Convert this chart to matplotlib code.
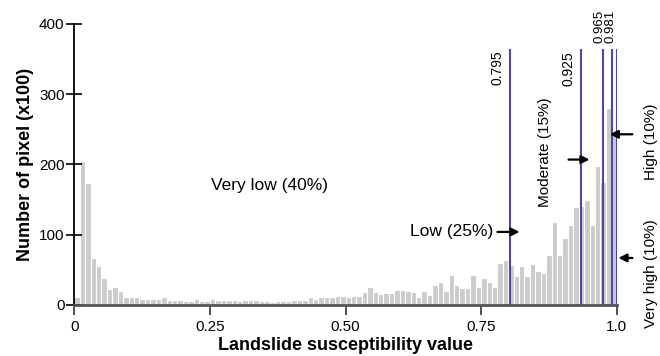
import matplotlib
matplotlib.use("Agg")
import matplotlib.pyplot as plt
import numpy as np

plt.rcParams['font.family'] = ['Liberation Sans', 'DejaVu Sans']

# histogram counts (x100 pixels), 100 bins of width 0.01 from 0 to 1
counts = [11, 205, 173, 67, 56, 38, 23, 25, 20, 11,
          11, 11, 9, 9, 9, 8, 11, 7, 7, 7,
          5, 6, 9, 6, 6, 9, 7, 7, 7, 7,
          5, 7, 7, 7, 6, 6, 4, 5, 6, 6,
          7, 7, 7, 12, 9, 12, 11, 11, 13, 13,
          11, 13, 13, 18, 26, 19, 15, 17, 17, 22,
          22, 20, 18, 12, 20, 14, 29, 33, 20, 43,
          29, 24, 24, 43, 26, 39, 33, 26, 60, 64,
          57, 41, 55, 41, 58, 49, 46, 71, 118, 71,
          95, 114, 140, 141, 149, 114, 198, 175, 280, 245]
bin_left = np.arange(100) / 100

# class break lines (drawn positions) and their labels
break_pos = [0.804, 0.934, 0.975, 0.992, 1.0]
break_labels = ['0.795', '0.925', '0.965', '0.981', '']

xticks = [0, 0.25, 0.5, 0.75, 1.0]
xtick_labels = ['0', '0.25', '0.50', '0.75', '1.0']
yticks = [0, 100, 200, 300, 400]

fig = plt.figure(figsize=(6.6, 3.56), dpi=100)
ax = fig.add_axes([0.1126, 0.1433, 0.8218, 0.7893])

ax.bar(bin_left, counts, width=0.01, align='edge', color='#cccccc',
       edgecolor='white', linewidth=0.8, zorder=1)

line_top = 363
for p in break_pos:
    ax.plot([p, p], [0, line_top], color='#4a4aa6', lw=1.5, zorder=3)

# labels of the breaks
ax.text(break_pos[0] - 0.010, line_top, break_labels[0], rotation=90,
        ha='right', va='top', fontsize=10)
ax.text(break_pos[1] - 0.010, line_top - 2, break_labels[1], rotation=90,
        ha='right', va='top', fontsize=10)
ax.text(0.968, 373, break_labels[2], rotation=90,
        ha='center', va='bottom', fontsize=9.5, clip_on=False)
ax.text(0.988, 373, break_labels[3], rotation=90,
        ha='center', va='bottom', fontsize=9.5, clip_on=False)

# class names
ax.text(0.359, 170, 'Very low (40%)', ha='center', va='center', fontsize=12.5)
ax.text(0.773, 104, 'Low (25%)', ha='right', va='center', fontsize=12.5)
ax.annotate('', xy=(0.826, 104), xytext=(0.775, 104),
            arrowprops=dict(arrowstyle='-|>', color='black', lw=1.6,
                            mutation_scale=12))
ax.text(0.868, 218, 'Moderate (15%)', rotation=90, ha='center',
        va='center', fontsize=11)
ax.annotate('', xy=(0.955, 207), xytext=(0.906, 207),
            arrowprops=dict(arrowstyle='-|>', color='black', lw=1.6,
                            mutation_scale=12))
ax.text(1.063, 233, 'High (10%)', rotation=90, ha='center', va='center',
        fontsize=11, clip_on=False)
ax.annotate('', xy=(0.982, 243), xytext=(1.034, 243),
            arrowprops=dict(arrowstyle='-|>', color='black', lw=1.6,
                            mutation_scale=12), annotation_clip=False)
ax.text(1.063, 45, 'Very high (10%)', rotation=90, ha='center', va='center',
        fontsize=11, clip_on=False)
ax.annotate('', xy=(0.998, 67), xytext=(1.034, 67),
            arrowprops=dict(arrowstyle='-|>', color='black', lw=1.6,
                            mutation_scale=12), annotation_clip=False)

ax.set_xlim(0, 1.0)
ax.set_ylim(0, 400)
ax.set_xticks(xticks)
ax.set_xticklabels(xtick_labels)
ax.set_yticks(yticks)
ax.tick_params(axis='x', direction='out', length=7, width=1.2,
               color='#333333', labelsize=11, pad=4)
ax.tick_params(axis='y', direction='inout', length=12, width=1.2,
               labelsize=11, pad=1)

for s in ['top', 'right']:
    ax.spines[s].set_visible(False)
ax.spines['left'].set_linewidth(1.3)
ax.spines['bottom'].set_color('#555555')
ax.spines['bottom'].set_linewidth(2)

ax.set_xlabel('Landslide susceptibility value', fontsize=13, fontweight='bold',
              labelpad=2)
ax.set_ylabel('Number of pixel (x100)', fontsize=13, fontweight='bold',
              labelpad=4)

fig.savefig('out.png', dpi=100)
